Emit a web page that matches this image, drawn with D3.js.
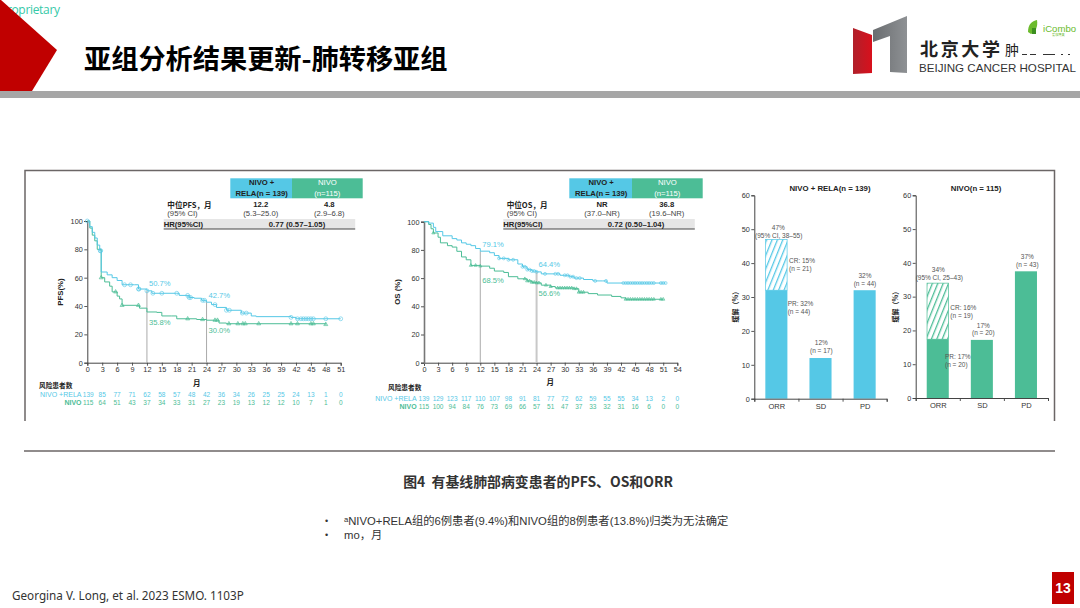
<!DOCTYPE html>
<html><head><meta charset="utf-8">
<script src="https://cdn.jsdelivr.net/npm/d3@7/dist/d3.min.js"></script>
<style>
html,body{margin:0;padding:0;background:#fff;overflow:hidden}
svg{display:block}
text{font-family:"Liberation Sans",Arial,"Noto Sans CJK SC",sans-serif;white-space:pre}
</style></head><body><svg id="c" width="1080" height="608"></svg>
<script>
const BLUE="#55C8E6",GREEN="#4CBD96",AXIS="#444";
const slideTitle="亚组分析结果更新-肺转移亚组";
const caption="图4  有基线肺部病变患者的PFS、OS和ORR";
const notes=["ᵃNIVO+RELA组的6例患者(9.4%)和NIVO组的8例患者(13.8%)归类为无法确定","mo，月"];
const citation="Georgina V. Long, et al. 2023 ESMO. 1103P";

const pfsTicks=d3.range(0,52,3), osTicks=d3.range(0,55,3), yTicks=[0,20,40,60,80,100];
const pfsComboT=[0,0.5,1,1.5,2,2.5,2.8,4,5,6,7,9.5,10.3,12,13,18,18.5,20.5,21.5,23,24,25,26,28,31,33,34,41,42,51];
const pfsComboS=[100,96,92,88,83,79,64,62,60,58,55,55,52,50.7,49,49,47.5,46,45.5,44,42.7,41,39,37,35,33,32.5,32,31,31];
const pfsNivoT=[0,0.5,1,1.5,2,2.8,3.5,4.5,5,6,6.5,7,10.5,12,14,15,17,18,22,24,26,26.5,28,32,48];
const pfsNivoS=[100,95,90,86,80,60,57,54,50,47,45,40.5,38.5,35.8,35.5,33,33,31,30.5,30,30,28,27.5,27.5,27];
const pfsComboCens=[0,2.6,2.7,7.5,8.7,10.3,10.4,12,13.2,15,18,20.2,20.5,20.8,23.2,23.6,25.7,28,28.6,31.2,32,41,42.3,43,43.5,44,44.5,45,45.5,48,51];
const pfsNivoCens=[2.8,5.7,7,10.3,20.2,23.2,25.7,26.2,28.5,30.3,31.3,31.8,34.5,41,42.3,45,45.5,48];
const pfsRiskCombo=[139,85,77,71,62,58,57,48,42,36,34,26,25,25,24,13,1,0];
const pfsRiskNivo=[115,64,51,43,37,34,33,31,27,23,19,13,12,12,10,7,1,0];

const osComboT=[0,1,2,2.5,4,6,7,8,9,10,11,12,14,15,16,18,20,21,22,23,24,25,28,29,31,32,34,36,38,39,51.5];
const osComboS=[100,99,96,93,90,88,87,85,84,83,81,79.1,78,76,74,73,70,68,66,65,64.4,63,63,62,61,60,59,58,58,56.5,56.5];
const osNivoT=[0,1,1.5,2,3,3.5,5,6,7,8,9,10,12,14,15,17,18,20,22,23,24,25,27,28,32,33,35,37,40,42,43,51];
const osNivoS=[100,98,95,92,89,85,83,82,79,75,73,69,68.5,67,65,64,61,59.5,58,57,56.6,55,54,53,52.5,50,49,48,47,46,45,45];
const osComboCens=[16,17,18,19,21,21.5,22,22.5,23,23.5,24,25.8,28,28.6,30,30.6,31.2,31.8,32.5,33.2,36.5,38.8,42.5,43,43.5,44,44.5,45,45.5,46,46.5,47,47.5,48,48.5,49,50.5,51,51.5];
const osNivoCens=[2,10,11,12,21.5,22,22.5,23,23.5,24,24.5,26,27,28.5,29,29.5,30,30.5,31,31.5,32,32.5,33,33.5,34,43,43.5,44,44.5,45,45.5,46,46.5,47,47.5,48,48.5,49,50.5,51];
const osRiskCombo=[139,129,123,117,110,107,98,91,81,77,72,62,59,55,55,34,13,2,0];
const osRiskNivo=[115,100,94,84,76,73,69,66,57,51,47,37,33,32,31,16,6,0,0];

const barCats=["ORR","SD","PD"], barTicks=[0,10,20,30,40,50,60];
const comboSolid=[32,12,32], comboCR=[15,0,0];
const nivoSolid=[17.4,17.2,37.5], nivoCR=[16.6,0,0];

const svg=d3.select("#c");
const defs=svg.append("defs");
function T(g,x,y,s,o={}){
  const t=g.append("text").attr("x",x).attr("y",y).attr("dominant-baseline","central")
   .attr("font-size",o.size||7).attr("fill",o.fill||"#333").attr("text-anchor",o.anchor||"start").text(s);
  if(o.bold)t.attr("font-weight","bold");
  if(o.family)t.style("font-family",o.family);
  if(o.rotate)t.attr("transform",`rotate(${o.rotate} ${x} ${y})`);
  return t;
}

/* ---------- slide chrome ---------- */
T(svg,0,9,"Proprietary",{size:12,fill:"#35C9A8",family:"'Open Sans',sans-serif"}).attr("textLength",60);
svg.append("polygon").attr("points","0,0 1,0 57,50 32,91 0,91").attr("fill","#C00000");
svg.append("rect").attr("x",0).attr("y",91).attr("width",1080).attr("height",7).attr("fill","#A6A6A6");
T(svg,84,57,slideTitle,{size:27.2,bold:true,fill:"#000",family:"'Noto Sans CJK SC',sans-serif"});

const gr=defs.append("linearGradient").attr("id","lg1").attr("x1",0).attr("x2",1).attr("y1",0).attr("y2",0);
gr.append("stop").attr("offset",0).attr("stop-color","#B0202A");gr.append("stop").attr("offset",1).attr("stop-color","#D8101C");
const gg=defs.append("linearGradient").attr("id","lg2").attr("x1",0).attr("x2",1).attr("y1",0).attr("y2",0);
gg.append("stop").attr("offset",0).attr("stop-color","#6A6D70");gg.append("stop").attr("offset",1).attr("stop-color","#8E9194");
svg.append("polygon").attr("points","853,28 872,35 872,73 853,74").attr("fill","url(#lg1)");
svg.append("polygon").attr("points","873,30 907,16 907,73 890,72 890,36 873,42").attr("fill","url(#lg2)");
T(svg,920,48,"北京大学",{size:18,fill:"#222",family:"'Noto Sans CJK SC',sans-serif",bold:true}).attr("textLength",80);
T(svg,1005,49,"肿",{size:14,fill:"#222",family:"'Noto Sans CJK SC',sans-serif"});
svg.append("g").selectAll("rect").data([[1022,5],[1030,6],[1043,12],[1061,2],[1068,2]]).join("rect")
  .attr("x",d=>d[0]).attr("y",54).attr("width",d=>d[1]).attr("height",1).attr("fill","#333");
T(svg,919,67,"BEIJING CANCER HOSPITAL",{size:11.6,fill:"#333"});
svg.append("path").attr("d","M1028,32 C1028,24 1032,21 1037,20 C1038,26 1036,32 1031,34 Z").attr("fill","#6CBB2D");
svg.append("path").attr("d","M1032,34 L1032,28 L1036,28 L1036,34 Z").attr("fill","#3D8F20");
T(svg,1043,28,"iCombo",{size:9.6,fill:"#6CBB2D"});
T(svg,1052,34.5,"爱康博奥",{size:3.2,fill:"#6CBB2D",family:"'Noto Sans CJK SC',sans-serif"});

/* frame and caption */
svg.append("path").attr("d","M25,421 V170.5 H1054.5 V421").attr("fill","none").attr("stroke","#6B6666").attr("stroke-width",1.5);
svg.append("line").attr("x1",24).attr("x2",1055).attr("y1",451).attr("y2",451).attr("stroke","#6B6666").attr("stroke-width",1.5);
T(svg,538,481,caption,{size:13.9,bold:true,anchor:"middle",fill:"#333",family:"'Noto Sans CJK SC',sans-serif"});
notes.forEach((n,i)=>{
  const y=521+i*14;
  T(svg,325,y,"•",{size:9,fill:"#333"});
  T(svg,344,y,n,{size:11.3,fill:"#333"});
});
T(svg,12,595,citation,{size:11.7,fill:"#333",family:"'Noto Sans',sans-serif"});
svg.append("rect").attr("x",1052).attr("y",572).attr("width",22).attr("height",32).attr("fill","#C00000");
T(svg,1063,588,"13",{size:14,bold:true,fill:"#fff",anchor:"middle"});

/* ---------- Kaplan-Meier panels ---------- */
function styleAxis(a,size){
  a.select(".domain").attr("stroke",AXIS).attr("stroke-width",1);
  a.selectAll(".tick line").attr("stroke",AXIS).attr("stroke-width",.9);
  a.selectAll("text").attr("font-size",size||7.3).attr("fill","#333").style("font-family","'Liberation Sans',sans-serif");
}
function stepAt(tt,ss,t){const i=d3.bisectRight(tt,t)-1;return ss[Math.max(0,i)];}
function km(c){
  const g=svg.append("g");
  const x=d3.scaleLinear().domain(c.xd).range(c.xr), y=d3.scaleLinear().domain([0,100]).range(c.yr);
  g.append("rect").attr("x",c.h[0]).attr("y",178.3).attr("width",c.h[1]-c.h[0]).attr("height",20).attr("fill",BLUE);
  g.append("rect").attr("x",c.h[1]).attr("y",178.3).attr("width",c.h[2]-c.h[1]).attr("height",20).attr("fill",GREEN);
  const mA=(c.h[0]+c.h[1])/2+.5, mB=(c.h[1]+c.h[2])/2;
  T(g,mA,182.7,"NIVO +",{size:7.7,bold:true,anchor:"middle",fill:"#222"});
  T(g,mA,193.3,"RELA(n = 139)",{size:7.7,bold:true,anchor:"middle",fill:"#222"});
  T(g,mB,182.7,"NIVO",{size:7.7,anchor:"middle",fill:"#fff"});
  T(g,mB,193.3,"(n=115)",{size:7.7,anchor:"middle",fill:"#fff"});
  T(g,c.h[3],204.5,c.medLabel,{size:7.6,bold:true,fill:"#222",family:"'Noto Sans CJK SC',sans-serif"});
  T(g,c.h[3],213.5,"(95% CI)",{size:7.7,fill:"#444"});
  T(g,c.h[4],204.5,c.med[0],{size:7.7,bold:true,anchor:"middle",fill:"#222"});
  T(g,c.h[4],213.5,c.ci[0],{size:7.7,anchor:"middle",fill:"#444"});
  T(g,c.h[5],204.5,c.med[1],{size:7.7,bold:true,anchor:"middle",fill:"#222"});
  T(g,c.h[5],213.5,c.ci[1],{size:7.7,anchor:"middle",fill:"#444"});
  g.append("rect").attr("x",c.h[6]).attr("y",219).attr("width",191.5).attr("height",10).attr("fill","#E6E6E6");
  g.append("line").attr("x1",c.h[6]).attr("x2",c.h[6]+191.5).attr("y1",229).attr("y2",229).attr("stroke","#333").attr("stroke-width",.9);
  T(g,c.h[6],224,"HR(95%CI)",{size:7.7,bold:true,fill:"#222"});
  T(g,c.h[7],224,c.hr,{size:7.7,bold:true,anchor:"middle",fill:"#222"});
  const ax=g.append("g").attr("transform",`translate(0,${c.yr[0]})`).call(d3.axisBottom(x).tickValues(c.ticks).tickSize(3).tickPadding(1.5));
  styleAxis(ax);
  const ay=g.append("g").attr("transform",`translate(${c.xr[0]},0)`).call(d3.axisLeft(y).tickValues(yTicks).tickSize(3).tickPadding(1.5));
  styleAxis(ay);
  if(c.thickY) ay.select(".domain").attr("stroke","#777").attr("stroke-width",1.6);
  [12,24].forEach((m,i)=>{
    g.append("line").attr("x1",x(m)).attr("x2",x(m)).attr("y1",y(stepAt(c.aT,c.aS,m))).attr("y2",c.yr[0])
      .attr("stroke",c.thickY&&i?"#C8C8C8":"#A0A0A0").attr("stroke-width",c.thickY&&i?2:.9);
  });
  const line=d3.line().curve(d3.curveStepAfter).x(d=>x(d[0])).y(d=>y(d[1]));
  const drawSeries=(tt,ss,cens,col,sym,size)=>{
    g.append("path").datum(d3.zip(tt,ss)).attr("d",line).attr("fill","none").attr("stroke",col).attr("stroke-width",1);
    g.append("g").selectAll("path").data(cens).join("path")
      .attr("d",d3.symbol().type(sym).size(size))
      .attr("transform",d=>`translate(${x(d)},${y(stepAt(tt,ss,d))})`)
      .attr("fill",sym===d3.symbolTriangle?col:"none").attr("fill-opacity",.35).attr("stroke",col).attr("stroke-width",.6);
  };
  drawSeries(c.bT,c.bS,c.bC,GREEN,d3.symbolTriangle,c.tsize);
  drawSeries(c.aT,c.aS,c.aC,BLUE,d3.symbolCircle,c.csize);
  c.labels.forEach(l=>T(g,x(l[0])+l[1],l[2],l[3],{size:7.6,fill:l[4]}));
  T(g,c.yt,292,c.yTitle,{size:7.8,bold:true,anchor:"middle",rotate:-90,fill:"#222"});
  T(g,c.mo[0],c.mo[1],"月",{size:7.5,bold:true,anchor:"middle",fill:"#222",family:"'Noto Sans CJK SC',sans-serif"});
  T(g,c.rt[0],c.rt[1],"风险患者数",{size:6.7,bold:true,fill:"#222",family:"'Noto Sans CJK SC',sans-serif"});
  T(g,c.rowEnd,c.ry[0],"NIVO +RELA",{size:7,anchor:"end",fill:BLUE});
  T(g,c.rowEnd,c.ry[1],"NIVO",{size:7,bold:true,anchor:"end",fill:GREEN});
  c.ticks.forEach((t,i)=>{
    T(g,x(t)+(i?0:c.r0),c.ry[0],c.ra[i],{size:6.5,anchor:"middle",fill:BLUE});
    T(g,x(t)+(i?0:c.r0),c.ry[1],c.rb[i],{size:6.5,anchor:"middle",fill:GREEN});
  });
}
km({xd:[0,51],xr:[87.3,340.7],yr:[362.7,221],ticks:pfsTicks,aT:pfsComboT,aS:pfsComboS,aC:pfsComboCens,bT:pfsNivoT,bS:pfsNivoS,bC:pfsNivoCens,
  h:[230.3,292,362.7,167.3,260.7,329.3,163.7,297],medLabel:"中位PFS，月",med:["12.2","4.8"],ci:["(5.3–25.0)","(2.9–6.8)"],hr:"0.77 (0.57–1.05)",
  yTitle:"PFS(%)",yt:60,mo:[196.7,382],rt:[39,385.3],ry:[394.3,402.3],rowEnd:81.5,r0:1,ra:pfsRiskCombo,rb:pfsRiskNivo,csize:12,tsize:7,
  labels:[[12,2,283,"50.7%",BLUE],[24,2,295,"42.7%",BLUE],[12,2,322,"35.8%",GREEN],[24,2,330.7,"30.0%",GREEN]]});
km({xd:[0,54],xr:[424,677.3],yr:[362.7,221.7],ticks:osTicks,aT:osComboT,aS:osComboS,aC:osComboCens,bT:osNivoT,bS:osNivoS,bC:osNivoCens,thickY:true,
  h:[569.3,632,702.7,506.7,602,666.7,503.3,636],medLabel:"中位OS，月",med:["NR","36.8"],ci:["(37.0–NR)","(19.6–NR)"],hr:"0.72 (0.50–1.04)",
  yTitle:"OS (%)",yt:397.3,mo:[550.3,381.7],rt:[388,387],ry:[398.7,406],rowEnd:416.7,r0:0,ra:osRiskCombo,rb:osRiskNivo,csize:7,tsize:4.5,
  labels:[[12,2,244,"79.1%",BLUE],[24,2,264.3,"64.4%",BLUE],[12,2,280.7,"68.5%",GREEN],[24,2,293.7,"56.6%",GREEN]]});

/* ---------- response bars ---------- */
function hatch(id,col){
  const p=defs.append("pattern").attr("id",id).attr("patternUnits","userSpaceOnUse").attr("width",5).attr("height",5).attr("patternTransform","rotate(22)");
  p.append("rect").attr("x",0).attr("y",0).attr("width",1.3).attr("height",5).attr("fill",col);
}
hatch("hb",BLUE);hatch("hg",GREEN);
function bars(c){
  const g=svg.append("g");
  const x=d3.scaleBand().domain(barCats).range(c.xr).paddingInner(.5).paddingOuter(.25);
  const y=d3.scaleLinear().domain([0,60]).range(c.yr);
  const edge=d3.scaleLinear().domain([0,3]).range(c.xr);
  const ay=g.append("g").attr("transform",`translate(${c.xr[0]},0)`).call(d3.axisLeft(y).tickValues(barTicks).tickSize(3).tickPadding(1.5));
  styleAxis(ay,7.3);
  barCats.forEach((k,i)=>{
    g.append("rect").attr("x",x(k)).attr("y",y(c.solid[i])).attr("width",x.bandwidth()).attr("height",y(0)-y(c.solid[i])).attr("fill",c.col);
    if(c.cr[i]>0){
      g.append("rect").attr("x",x(k)+.3).attr("y",y(c.solid[i]+c.cr[i])).attr("width",x.bandwidth()-.6).attr("height",y(c.solid[i])-y(c.solid[i]+c.cr[i]))
       .attr("fill",`url(#${c.pat})`).attr("stroke",c.col).attr("stroke-width",.7);
    }
  });
  const ax=g.append("g").attr("transform",`translate(0,${c.yr[0]})`).call(d3.axisBottom(edge).tickValues([0,1,2,3]).tickSize(3).tickFormat(""));
  styleAxis(ax);
  barCats.forEach(k=>T(g,x(k)+x.bandwidth()/2+.5,c.yr[0]+7.5,k,{size:7.5,anchor:"middle",fill:"#333"}));
  T(g,c.title[0],188.3,c.title[1],{size:7.8,bold:true,anchor:"middle",fill:"#222"});
  T(g,c.yt,305,"缓解（%）",{size:7,bold:true,anchor:"middle",rotate:-90,fill:"#222",family:"'Noto Sans CJK SC',sans-serif"});
  c.notes.forEach(n=>T(g,n[0],n[1],n[2],{size:6.5,anchor:n[3]||"middle",fill:"#555"}));
}
bars({xr:[754.3,886.7],yr:[398.7,195.3],solid:comboSolid,cr:comboCR,col:BLUE,pat:"hb",title:[830,"NIVO + RELA(n = 139)"],yt:735,
  notes:[[778.3,227.3,"47%"],[778.7,235,"(95% CI, 38–55)"],[789,260.7,"CR: 15%","start"],[789,268.3,"(n = 21)","start"],[787.7,303.3,"PR: 32%","start"],[787.7,311,"(n = 44)","start"],
  [821.3,342.3,"12%"],[821.3,350,"(n = 17)"],[865,275.7,"32%"],[865,283.3,"(n = 44)"]]});
bars({xr:[915.7,1048],yr:[398,195.3],solid:nivoSolid,cr:nivoCR,col:GREEN,pat:"hg",title:[976,"NIVO(n = 115)"],yt:895,
  notes:[[938.3,269.7,"34%"],[939.3,277.3,"(95% CI, 25–43)"],[950.3,307.7,"CR: 16%","start"],[950.3,315.3,"(n = 19)","start"],[945,356.3,"PR: 17%","start"],[945,364,"(n = 20)","start"],
  [983.3,325,"17%"],[983.3,332.7,"(n = 20)"],[1027.3,256.7,"37%"],[1027.3,264.7,"(n = 43)"]]});
</script></body></html>
